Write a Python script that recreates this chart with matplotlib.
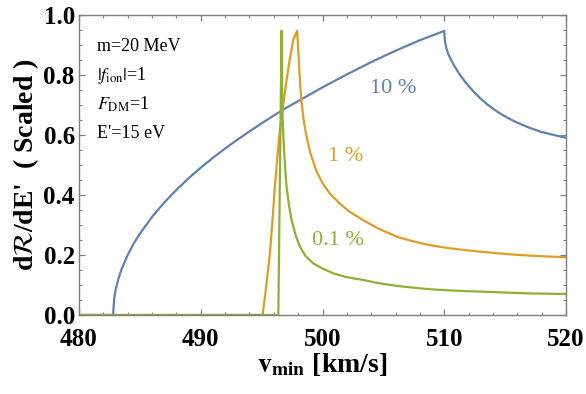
import matplotlib
matplotlib.use("Agg")
import matplotlib.pyplot as plt
from matplotlib.ticker import MultipleLocator

plt.rcParams['font.family'] = ['Liberation Serif', 'DejaVu Serif']
plt.rcParams['mathtext.fontset'] = 'stix'

# 10 % curve (blue)
v_10 = [480, 482.8, 482.9, 483.0, 483.2, 483.5, 484, 484.5, 485, 486, 487, 488,
        489, 490, 491, 492, 493, 494, 495, 496, 497, 498, 499, 500, 502, 504,
        506, 508, 510,
        510.05, 510.15, 510.3, 510.5, 510.8, 511.2, 511.6, 512, 512.5, 513,
        513.5, 514, 514.5, 515, 515.5, 516, 517, 518, 519, 520]
r_10 = [0, 0, 0.058, 0.082, 0.116, 0.153, 0.2, 0.239, 0.271, 0.327, 0.375, 0.417,
        0.456, 0.491, 0.524, 0.555, 0.584, 0.612, 0.639, 0.665, 0.690, 0.713, 0.736, 0.759, 0.802, 0.843,
        0.881, 0.916, 0.947,
        0.915, 0.893, 0.873, 0.855, 0.832, 0.806, 0.783, 0.763, 0.741, 0.721,
        0.703, 0.688, 0.674, 0.662, 0.651, 0.641, 0.624, 0.61, 0.60, 0.591]

# 1 % curve (orange)
v_1 = [480, 495.08, 495.3, 495.5, 495.68, 495.9, 496.09, 496.3, 496.5, 496.8,
       497.05, 497.3, 497.6, 497.92,
       497.98, 498.09, 498.18, 498.28, 498.45, 498.69, 499.0, 499.5, 500.0,
       500.6, 501.4, 502.2, 503.3, 504.5, 506.1, 507.5, 508.8, 510, 511.55,
       513, 514.3, 515.5, 517.0, 518.5, 520]
r_1 = [0, 0, 0.07, 0.14, 0.206, 0.32, 0.428, 0.53, 0.617, 0.71,
       0.783, 0.85, 0.917, 0.948,
       0.9, 0.82, 0.76, 0.71, 0.65, 0.594, 0.54, 0.48, 0.44,
       0.405, 0.372, 0.345, 0.317, 0.29, 0.261, 0.245, 0.233, 0.225, 0.217,
       0.211, 0.206, 0.202, 0.198, 0.195, 0.193]

# 0.1 % curve (green)
v_01 = [480, 496.37, 496.64,
        496.66, 496.69, 496.72, 496.78, 496.86, 496.95, 497.05, 497.25, 497.46,
        497.8, 498.14, 498.6, 499.24, 500, 500.88, 502, 503.3, 504.5, 506.1,
        507.5, 508.8, 510, 511.55, 513, 514.3, 515.5, 517, 518.5, 520]
r_01 = [0, 0, 0.948,
        0.85, 0.75, 0.661, 0.6, 0.539, 0.48, 0.428, 0.365, 0.317,
        0.265, 0.228, 0.197, 0.172, 0.155, 0.139, 0.126, 0.117, 0.107, 0.097,
        0.091, 0.086, 0.083, 0.08, 0.078, 0.076, 0.074, 0.072, 0.071, 0.07]

blue = '#5e81b5'
orange = '#e19c24'
green = '#8fb032'
grey = '#7f7f7f'

fig = plt.figure(figsize=(5.86, 3.94), dpi=100)
ax = fig.add_axes([0.1348, 0.2005, 0.8311, 0.7614])

ax.plot(v_10, r_10, color=blue, lw=1.6)
ax.plot(v_1, r_1, color=orange, lw=1.6)
ax.plot(v_01, r_01, color=green, lw=1.6)

ax.set_xlim(480, 520)
ax.set_ylim(0, 1.0)
ax.xaxis.set_major_locator(MultipleLocator(10))
ax.xaxis.set_minor_locator(MultipleLocator(2))
ax.yaxis.set_major_locator(MultipleLocator(0.2))
ax.yaxis.set_minor_locator(MultipleLocator(0.05))
ax.yaxis.set_major_formatter(plt.FuncFormatter(lambda v, p: f"{v:.1f}"))

ax.tick_params(which='both', direction='in', top=True, right=True, color=grey)
ax.tick_params(which='major', length=4.2, width=0.9)
ax.tick_params(which='minor', length=2.4, width=0.8)
ax.tick_params(axis='both', which='major', labelsize=18)
ax.tick_params(axis='x', which='major', pad=9)
ax.tick_params(axis='y', which='major', pad=3)
for lab in ax.get_xticklabels() + ax.get_yticklabels():
    lab.set_fontweight('bold')
for s in ax.spines.values():
    s.set_color(grey)
    s.set_linewidth(1.0)

ax.set_xlabel(r"$\mathbf{v_{min}}$ [km/s]", fontsize=20, fontweight='bold', labelpad=0)
ax.set_ylabel(r"d$\mathcal{R}$/dE'  ( Scaled )", fontsize=20, fontweight='bold', labelpad=2)

# parameter box
ax.text(481.5, 0.895, "m=20 MeV", fontsize=13, va='center')
ax.text(481.5, 0.797, r"$|f_{\mathrm{ion}}|$=1", fontsize=13, va='center')
ax.text(481.5, 0.702, r"$F_{\mathrm{DM}}$=1", fontsize=13, va='center')
ax.text(481.5, 0.605, "E'=15 eV", fontsize=13, va='center')

# curve labels
ax.text(505.8, 0.755, "10 %", fontsize=16, color=blue, ha='center', va='center')
ax.text(501.9, 0.53, "1 %", fontsize=16, color=orange, ha='center', va='center')
ax.text(501.3, 0.25, "0.1 %", fontsize=16, color=green, ha='center', va='center')

fig.savefig("out.png", dpi=100)
